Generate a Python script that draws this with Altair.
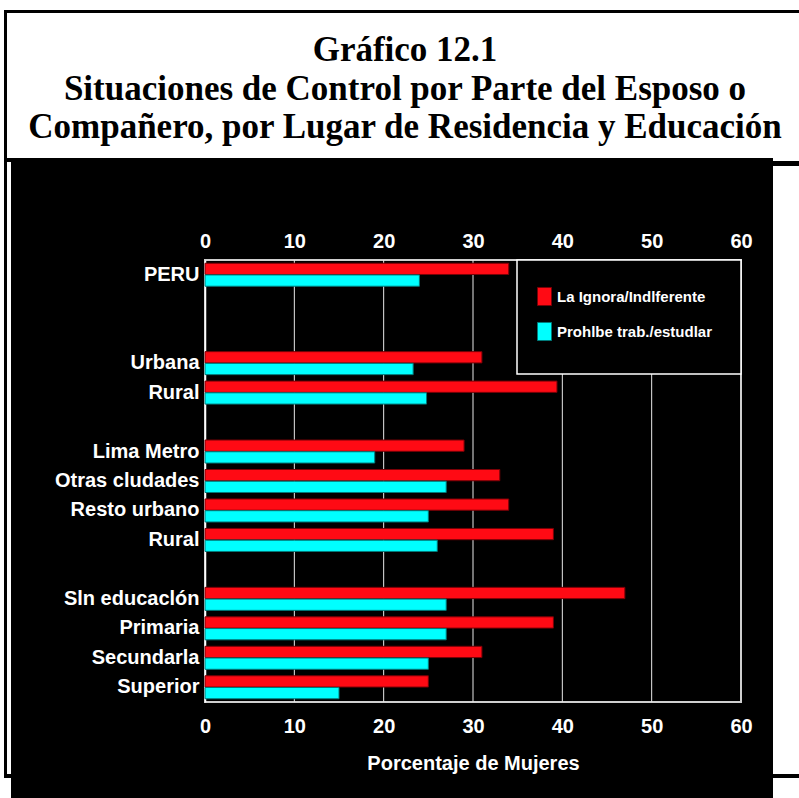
import altair as alt
import pandas as pd

# Rows of the chart, top to bottom; blank keys (spaces) leave gaps between groups,
# and the second rural row carries a trailing space so it keeps its own slot.
row_order = [
    "PERU", " ", "  ",
    "Urbana", "Rural", "   ",
    "Lima Metro", "Otras cludades", "Resto urbano", "Rural ", "    ",
    "Sln educaclón", "Primaria", "Secundarla", "Superior",
]
groups = [
    "PERU", "Urbana", "Rural", "Lima Metro", "Otras cludades", "Resto urbano",
    "Rural ", "Sln educaclón", "Primaria", "Secundarla", "Superior",
]
series_names = ["La Ignora/Indlferente", "Prohlbe trab./estudlar"]
ignora = [34, 31, 39.4, 29, 33, 34, 39, 47, 39, 31, 25]
prohibe = [24, 23.3, 24.8, 19, 27, 25, 26, 27, 27, 25, 15]
fill_colors = ["#ff0a14", "#00ffff"]
edge_colors = ["#7a0006", "#007a7a"]
tick_values = [0, 10, 20, 30, 40, 50, 60]
grid_values = [10, 20, 30, 40, 50]

title_lines = [
    "Gráfico 12.1",
    "Situaciones de Control por Parte del Esposo o",
    "Compañero, por Lugar de Residencia y Educación",
]

rows = []
for g, a, b in zip(groups, ignora, prohibe):
    rows.append({"grupo": g, "serie": series_names[0], "valor": a})
    rows.append({"grupo": g, "serie": series_names[1], "valor": b})
df = pd.DataFrame(rows)
grid_df = pd.DataFrame({"v": grid_values})

# plot area sits at (205, 260) on the 799x798 page
W, H = 536, 442
OX, OY = 205, 260
SANS = "Liberation Sans"
one = alt.Data(values=[{}])

x_scale = alt.Scale(domain=[0, 60], nice=False, zero=True)


def px(X):
    return X - OX


def py(Y):
    return Y - OY


def box(x0, y0, x1, y1, color):
    return alt.Chart(one).mark_rect(color=color, strokeWidth=0).encode(
        x=alt.value(px(x0)), x2=alt.value(px(x1)),
        y=alt.value(py(y0)), y2=alt.value(py(y1)),
    )


# white paper around the black panel
paper = [
    box(0, 0, 799, 158, "white"),
    box(0, 158, 11, 798, "white"),
    box(773, 158, 799, 798, "white"),
]

# black frame strokes
frame = [
    box(4, 10, 7, 778, "black"),
    box(4, 10, 799, 13, "black"),
    box(4, 158, 11, 162, "black"),
    box(773, 161, 799, 166, "black"),
    box(4, 774, 11, 778, "black"),
    box(773, 774, 799, 778, "black"),
]

title_y = [50, 89, 127]
titles = [
    alt.Chart(one).mark_text(
        text=t, font="Liberation Serif", fontWeight="bold", fontSize=35,
        color="black", align="center", baseline="middle",
    ).encode(x=alt.value(px(405)), y=alt.value(py(yy)))
    for t, yy in zip(title_lines, title_y)
]

grid = alt.Chart(grid_df).mark_rule(color="#e8e8e8", strokeWidth=1).encode(
    x=alt.X("v:Q", scale=x_scale,
            axis=alt.Axis(orient="top", values=tick_values, title=None,
                          ticks=False, domain=False, grid=False,
                          labelFont=SANS, labelFontSize=20,
                          labelFontWeight="bold", labelColor="white",
                          labelPadding=9, labelFlush=False)),
)

bars = alt.Chart(df).mark_bar(strokeWidth=1).encode(
    y=alt.Y("grupo:N",
            scale=alt.Scale(domain=row_order, paddingInner=0.22, paddingOuter=0.11),
            sort=row_order,
            axis=alt.Axis(title=None, labelExpr="trim(datum.value)", ticks=False,
                          domain=True, domainColor="white", domainWidth=1.5,
                          labelFont=SANS, labelFontSize=20, labelFontWeight="bold",
                          labelColor="white", labelPadding=6)),
    yOffset=alt.YOffset("serie:N",
                        scale=alt.Scale(domain=series_names, paddingInner=0.04)),
    x=alt.X("valor:Q", scale=x_scale,
            axis=alt.Axis(orient="bottom", values=tick_values,
                          title="Porcentaje de Mujeres", ticks=False,
                          domain=False, grid=False,
                          labelFont=SANS, labelFontSize=20,
                          labelFontWeight="bold", labelColor="white",
                          labelPadding=14, labelFlush=False,
                          titleFont=SANS, titleFontSize=20,
                          titleFontWeight="bold", titleColor="white",
                          titlePadding=17)),
    color=alt.Color("serie:N",
                    scale=alt.Scale(domain=series_names, range=fill_colors),
                    legend=alt.Legend(
                        orient="none", legendX=332, legendY=29, title=None,
                        padding=0, zindex=1, direction="vertical",
                        symbolType="M-1,-1.29L1,-1.29L1,1.29L-1,1.29Z",
                        symbolSize=196, symbolStrokeWidth=1,
                        symbolStrokeColor="#333333",
                        labelFont=SANS, labelFontSize=15,
                        labelFontWeight="bold", labelColor="white",
                        labelOffset=5, rowPadding=12)),
    stroke=alt.Stroke("serie:N",
                      scale=alt.Scale(domain=series_names, range=edge_colors),
                      legend=None),
)

legend_box = alt.Chart(one).mark_rect(
    fill="black", stroke="white", strokeWidth=1.5,
).encode(
    x=alt.value(px(517)), x2=alt.value(px(741)),
    y=alt.value(py(260)), y2=alt.value(py(374)),
)

chart = alt.layer(
    *paper, *frame, *titles, grid, bars, legend_box,
).resolve_axis(x="independent").resolve_scale(
    color="independent", stroke="independent"
).properties(
    width=W, height=H,
    padding={"left": OX, "top": OY, "right": 799 - OX - W, "bottom": 798 - OY - H},
    autosize=alt.AutoSizeParams(type="none"),
    background="black",
).configure_view(
    stroke="#cfcfcf", strokeWidth=2,
)

chart.save("out.html", embed_options={"renderer": "svg", "actions": False})
